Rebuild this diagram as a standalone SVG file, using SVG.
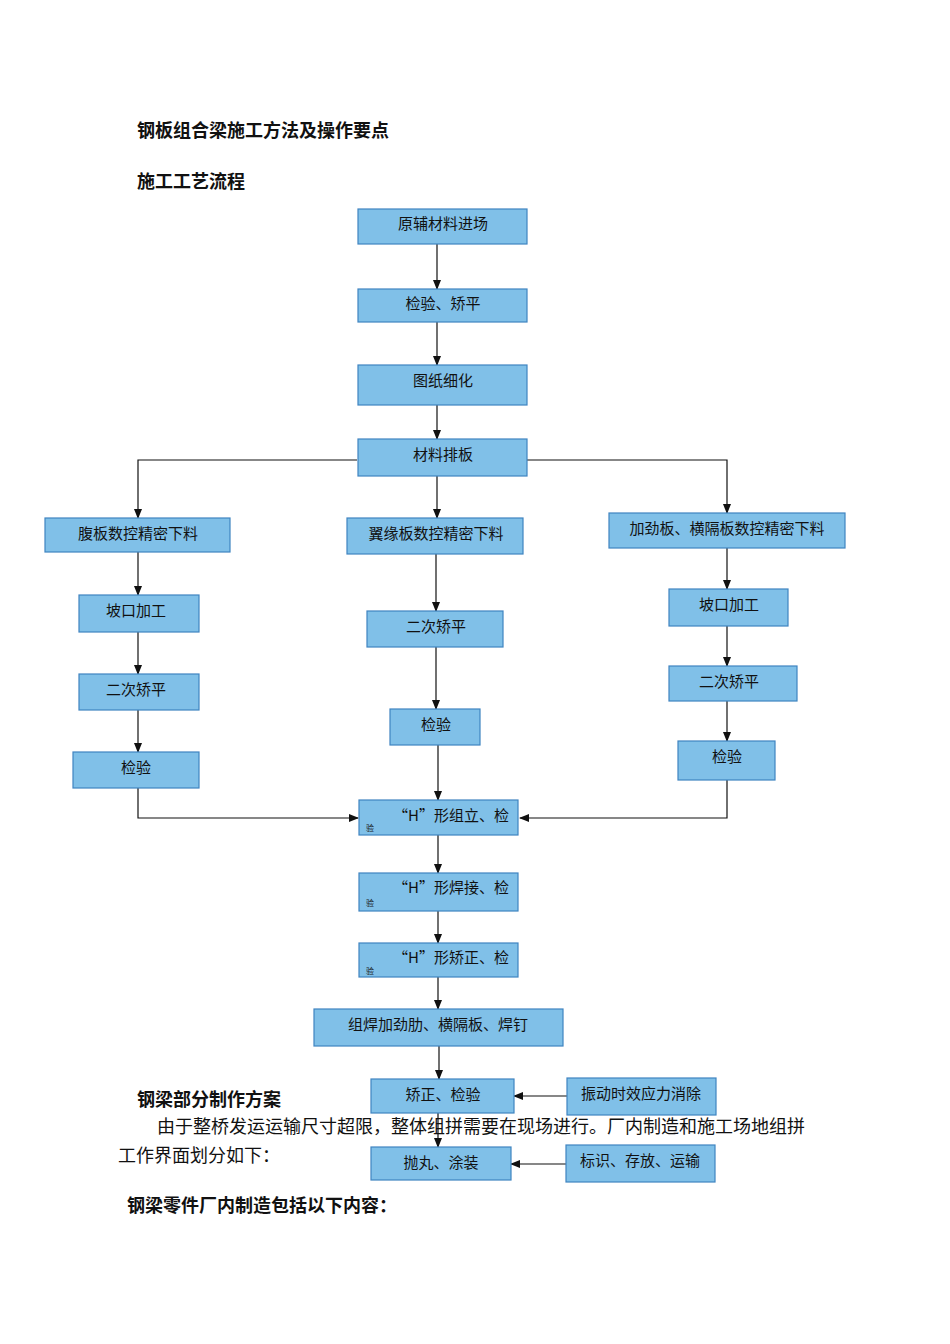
<svg xmlns="http://www.w3.org/2000/svg" width="950" height="1344" viewBox="0 0 950 1344">
<style>
.b{fill:#80c0e8;stroke:#3f84c0;stroke-width:1.2}
.t{font-family:"Noto Sans CJK SC","Liberation Sans",sans-serif;font-size:15px;fill:#111;text-anchor:middle}
.s{font-family:"Noto Sans CJK SC",sans-serif;font-size:8px;fill:#111}
.h{font-family:"Noto Sans CJK SC",sans-serif;font-size:18px;font-weight:bold;fill:#111}
.p{font-family:"Noto Sans CJK SC",sans-serif;font-size:18px;fill:#111}
.c line,.c polyline{stroke:#111;stroke-width:1.2;fill:none;marker-end:url(#a)}
</style>
<defs><marker id="a" markerWidth="10" markerHeight="8" refX="9" refY="4" orient="auto" markerUnits="userSpaceOnUse"><path d="M0,0L10,4L0,8z" fill="#111"/></marker></defs>
<rect width="950" height="1344" fill="#fff"/>
<text class="h" x="137" y="137">钢板组合梁施工方法及操作要点</text>
<text class="h" x="137" y="188">施工工艺流程</text>
<g class="c">
<line x1="437" y1="244" x2="437" y2="289"/>
<line x1="437" y1="322" x2="437" y2="365"/>
<line x1="437" y1="405" x2="437" y2="439"/>
<line x1="437" y1="476" x2="437" y2="518"/>
<polyline points="357,460 138,460 138,518"/>
<polyline points="527,460 727,460 727,513"/>
<line x1="138" y1="552" x2="138" y2="595"/>
<line x1="138" y1="632" x2="138" y2="674"/>
<line x1="138" y1="710" x2="138" y2="752"/>
<polyline points="138,788 138,818 358,818"/>
<line x1="436" y1="554" x2="436" y2="611"/>
<line x1="436" y1="647" x2="436" y2="709"/>
<line x1="438" y1="745" x2="438" y2="800"/>
<line x1="727" y1="548" x2="727" y2="589"/>
<line x1="727" y1="626" x2="727" y2="666"/>
<line x1="727" y1="701" x2="727" y2="741"/>
<polyline points="727,780 727,818 520,818"/>
<line x1="438" y1="835" x2="438" y2="873"/>
<line x1="438" y1="911" x2="438" y2="943"/>
<line x1="438" y1="977" x2="438" y2="1009"/>
<line x1="439" y1="1046" x2="439" y2="1079"/>
<line x1="438" y1="1113" x2="438" y2="1147"/>
<line x1="567" y1="1096" x2="514" y2="1096"/>
<line x1="566" y1="1164" x2="511" y2="1164"/>
</g>
<g id="n1"><rect class="b" x="358" y="209" width="169" height="35"/><text class="t" x="443" y="229">原辅材料进场</text></g>
<g id="n2"><rect class="b" x="358" y="289" width="169" height="33"/><text class="t" x="443" y="309">检验、矫平</text></g>
<g id="n3"><rect class="b" x="358" y="365" width="169" height="40"/><text class="t" x="443" y="386">图纸细化</text></g>
<g id="n4"><rect class="b" x="358" y="439" width="169" height="37"/><text class="t" x="443" y="460">材料排板</text></g>
<g id="l1"><rect class="b" x="45" y="518" width="185" height="34"/><text class="t" x="138" y="539">腹板数控精密下料</text></g>
<g id="l2"><rect class="b" x="79" y="595" width="120" height="37"/><text class="t" x="136" y="616">坡口加工</text></g>
<g id="l3"><rect class="b" x="79" y="674" width="120" height="36"/><text class="t" x="136" y="695">二次矫平</text></g>
<g id="l4"><rect class="b" x="73" y="752" width="126" height="36"/><text class="t" x="136" y="773">检验</text></g>
<g id="m1"><rect class="b" x="347" y="518" width="176" height="36"/><text class="t" x="436" y="539">翼缘板数控精密下料</text></g>
<g id="m2"><rect class="b" x="367" y="611" width="136" height="36"/><text class="t" x="436" y="632">二次矫平</text></g>
<g id="m3"><rect class="b" x="390" y="709" width="90" height="36"/><text class="t" x="436" y="730">检验</text></g>
<g id="r1"><rect class="b" x="609" y="513" width="236" height="35"/><text class="t" x="727" y="534">加劲板、横隔板数控精密下料</text></g>
<g id="r2"><rect class="b" x="669" y="589" width="119" height="37"/><text class="t" x="729" y="610">坡口加工</text></g>
<g id="r3"><rect class="b" x="669" y="666" width="128" height="35"/><text class="t" x="729" y="687">二次矫平</text></g>
<g id="r4"><rect class="b" x="678" y="741" width="97" height="39"/><text class="t" x="727" y="762">检验</text></g>
<g id="h1"><rect class="b" x="359" y="800" width="159" height="35"/><text class="t" x="451" y="821">“H”形组立、检</text><text class="s" x="366" y="831">验</text></g>
<g id="h2"><rect class="b" x="359" y="873" width="159" height="38"/><text class="t" x="451" y="893">“H”形焊接、检</text><text class="s" x="366" y="906">验</text></g>
<g id="h3"><rect class="b" x="359" y="943" width="159" height="34"/><text class="t" x="451" y="963">“H”形矫正、检</text><text class="s" x="366" y="974">验</text></g>
<g id="n5"><rect class="b" x="314" y="1009" width="249" height="37"/><text class="t" x="438" y="1030">组焊加劲肋、横隔板、焊钉</text></g>
<g id="n6"><rect class="b" x="371" y="1079" width="143" height="34"/><text class="t" x="443" y="1100">矫正、检验</text></g>
<g id="n7"><rect class="b" x="567" y="1078" width="149" height="37"/><text class="t" x="641" y="1099">振动时效应力消除</text></g>
<g id="n8"><rect class="b" x="371" y="1147" width="140" height="33"/><text class="t" x="441" y="1168">抛丸、涂装</text></g>
<g id="n9"><rect class="b" x="566" y="1145" width="149" height="37"/><text class="t" x="640" y="1166">标识、存放、运输</text></g>
<text class="h" x="137" y="1106">钢梁部分制作方案</text>
<text class="p" x="157" y="1133">由于整桥发运运输尺寸超限，整体组拼需要在现场进行。厂内制造和施工场地组拼</text>
<text class="p" x="118" y="1162">工作界面划分如下：</text>
<text class="h" x="127" y="1212">钢梁零件厂内制造包括以下内容：</text>
</svg>
